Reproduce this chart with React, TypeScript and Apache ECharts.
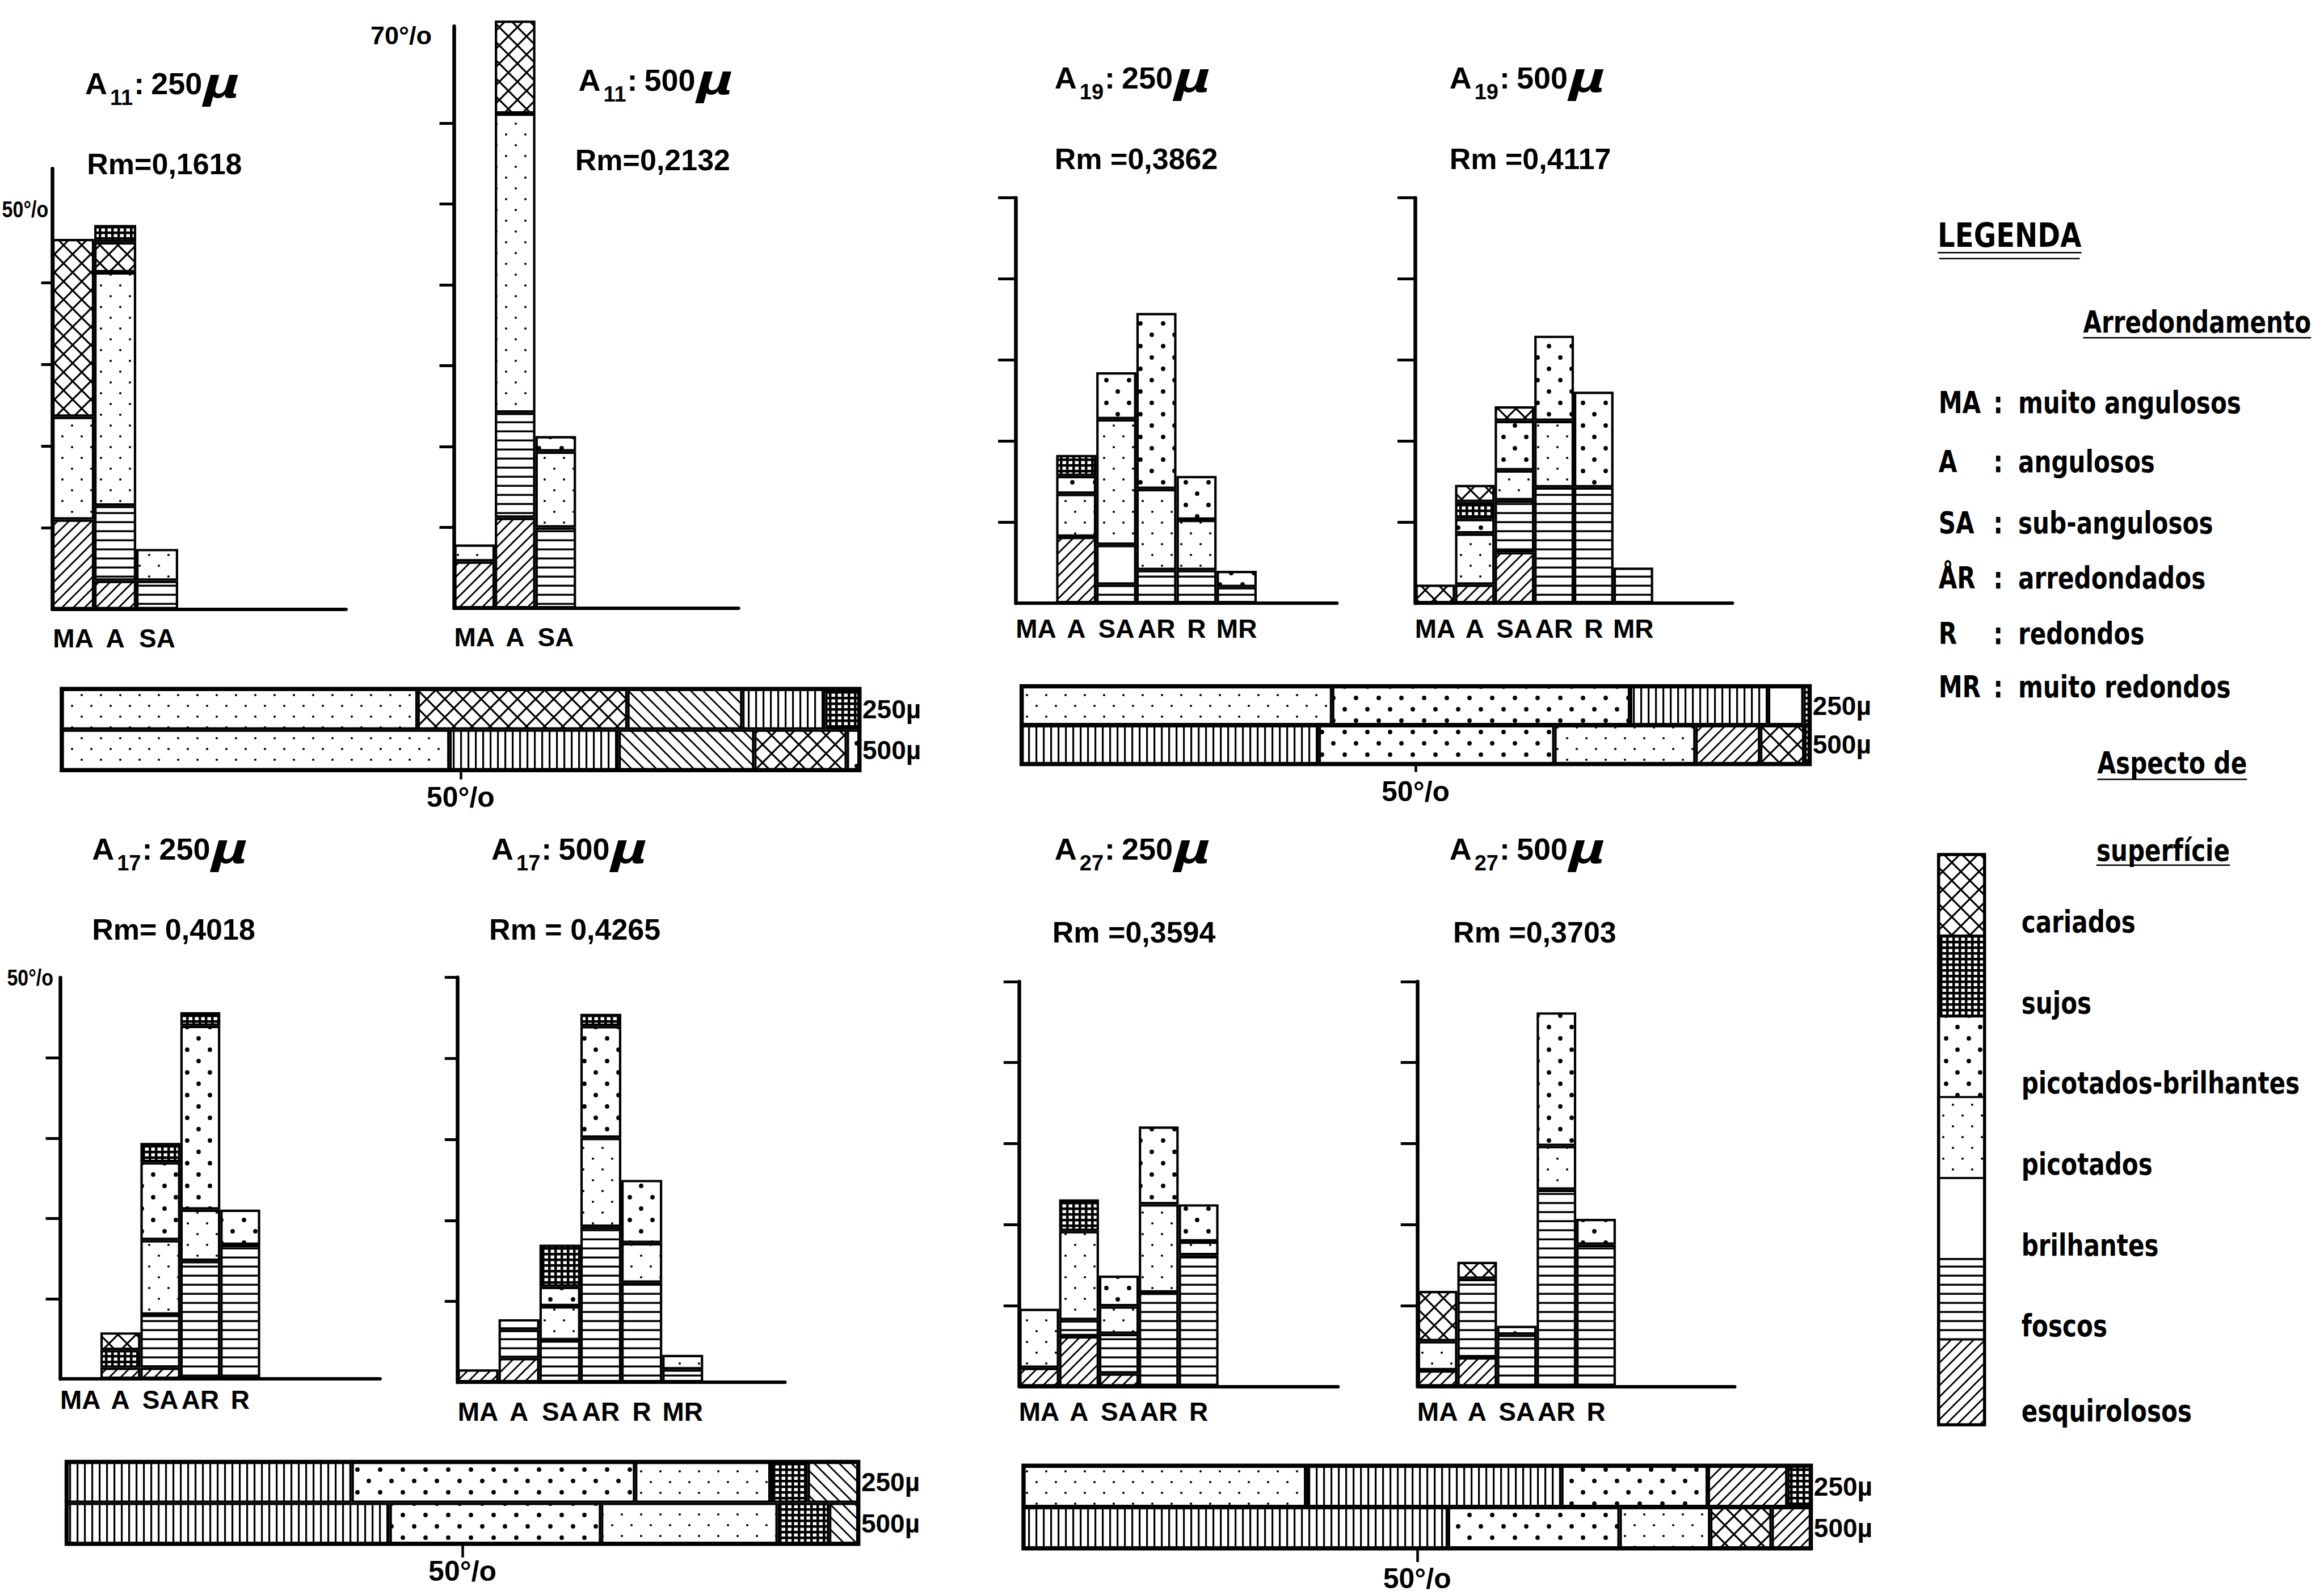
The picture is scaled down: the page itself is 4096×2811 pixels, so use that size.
import React, { useEffect, useRef } from 'react';
import * as echarts from 'echarts';

// ================= DATA =================
// Roundness classes (x categories of every histogram)
const ROUND_CLASSES = ['MA', 'A', 'SA', 'AR', 'R', 'MR'];
// Surface-aspect classes in stacking order, bottom -> top
// esq = esquirolosos, fos = foscos, bril = brilhantes, pic = picotados,
// picbril = picotados-brilhantes, cariSub = cariados (below sujos), sujos, cari = cariados
const SURFACE_STACK = ['esq', 'fos', 'bril', 'pic', 'picbril', 'cariSub', 'sujos', 'cari'];

// Histogram segment heights (%), rows = SURFACE_STACK, columns = ROUND_CLASSES
const A11_250 = [
  [11.0, 3.5, 0, 0, 0, 0],
  [0, 9.2, 3.5, 0, 0, 0],
  [0, 0, 0, 0, 0, 0],
  [12.6, 28.6, 3.9, 0, 0, 0],
  [0, 0, 0, 0, 0, 0],
  [0, 3.7, 0, 0, 0, 0],
  [0, 2.1, 0, 0, 0, 0],
  [21.8, 0, 0, 0, 0, 0],
];
const A11_500 = [
  [5.8, 11.2, 0, 0, 0, 0],
  [0, 13.0, 10.0, 0, 0, 0],
  [0, 0, 0, 0, 0, 0],
  [2.1, 37.0, 9.4, 0, 0, 0],
  [0, 0, 1.9, 0, 0, 0],
  [0, 0, 0, 0, 0, 0],
  [0, 0, 0, 0, 0, 0],
  [0, 11.5, 0, 0, 0, 0],
];
const A19_250 = [
  [0, 8.2, 0, 0, 0, 0],
  [0, 0, 2.3, 4.1, 4.1, 2.0],
  [0, 0, 4.9, 0, 0, 0],
  [0, 5.3, 15.5, 10.0, 6.2, 0],
  [0, 2.2, 5.8, 21.7, 5.4, 2.0],
  [0, 0, 0, 0, 0, 0],
  [0, 2.6, 0, 0, 0, 0],
  [0, 0, 0, 0, 0, 0],
];
const A19_500 = [
  [0, 2.3, 6.3, 0, 0, 0],
  [0, 0, 6.4, 14.3, 14.3, 4.4],
  [0, 0, 0, 0, 0, 0],
  [0, 6.3, 3.7, 8.2, 0, 0],
  [0, 1.8, 6.1, 10.5, 11.8, 0],
  [0, 0, 0, 0, 0, 0],
  [0, 2.1, 0, 0, 0, 0],
  [2.3, 2.1, 1.8, 0, 0, 0],
];
const A17_250 = [
  [0, 1.4, 1.4, 0, 0, 0],
  [0, 0, 6.6, 14.7, 16.7, 0],
  [0, 0, 0, 0, 0, 0],
  [0, 0, 9.3, 6.4, 0, 0],
  [0, 0, 9.7, 22.9, 4.4, 0],
  [0, 0, 0, 0, 0, 0],
  [0, 2.2, 2.4, 1.7, 0, 0],
  [0, 2.2, 0, 0, 0, 0],
];
const A17_500 = [
  [1.6, 3.0, 0, 0, 0, 0],
  [0, 3.5, 5.2, 19.2, 12.3, 1.6],
  [0, 0, 0, 0, 0, 0],
  [0, 1.3, 4.2, 11.0, 4.9, 1.8],
  [0, 0, 2.4, 13.8, 7.8, 0],
  [0, 0, 0, 0, 0, 0],
  [0, 0, 5.2, 1.5, 0, 0],
  [0, 0, 0, 0, 0, 0],
];
const A27_250 = [
  [2.3, 6.2, 1.6, 0, 0, 0],
  [0, 2.0, 4.9, 11.6, 16.2, 0],
  [0, 0, 0, 0, 0, 0],
  [7.3, 11.0, 3.4, 10.9, 1.7, 0],
  [0, 0, 3.8, 9.6, 4.6, 0],
  [0, 0, 0, 0, 0, 0],
  [0, 3.9, 0, 0, 0, 0],
  [0, 0, 0, 0, 0, 0],
];
const A27_500 = [
  [2.0, 3.6, 0, 0, 0, 0],
  [0, 9.7, 6.4, 24.3, 17.5, 0],
  [0, 0, 0, 0, 0, 0],
  [3.6, 0, 0, 5.4, 0, 0],
  [0, 0, 1.1, 16.5, 3.2, 0],
  [0, 0, 0, 0, 0, 0],
  [0, 0, 0, 0, 0, 0],
  [6.2, 2.1, 0, 0, 0, 0],
];

// number of roundness labels printed under each histogram
const SHOWN_LABELS = [3, 3, 6, 6, 5, 6, 5, 5];

// Titles (sample, sieve) and mean roundness
const SAMPLES = ['11', '11', '19', '19', '17', '17', '27', '27'];
const SIEVES = ['250', '500', '250', '500', '250', '500', '250', '500'];
const RM_TEXT = ['Rm=0,1618', 'Rm=0,2132', 'Rm =0,3862', 'Rm =0,4117', 'Rm= 0,4018', 'Rm = 0,4265', 'Rm =0,3594', 'Rm =0,3703'];

// Overall composition bars (% of sample), segments in drawn order
const H_A11_250 = [['pic', 44.6], ['cari', 26.3], ['esq', 14.4], ['fos', 10.4], ['sujos', 4.3]];
const H_A11_500 = [['pic', 48.6], ['fos', 21.2], ['esq', 17.0], ['cari', 11.6], ['picbril', 1.6]];
const H_A19_250 = [['pic', 39.4], ['picbril', 37.8], ['fos', 17.5], ['bril', 4.5], ['sujos', 0.8]];
const H_A19_500 = [['fos', 37.7], ['picbril', 29.9], ['pic', 17.9], ['esq', 8.2], ['cari', 5.6], ['sujos', 0.7]];
const H_A17_250 = [['fos', 36.0], ['picbril', 35.8], ['pic', 17.1], ['sujos', 4.7], ['esq', 6.4]];
const H_A17_500 = [['fos', 40.8], ['picbril', 26.7], ['pic', 22.3], ['sujos', 6.5], ['esq', 3.7]];
const H_A27_250 = [['pic', 35.9], ['fos', 32.4], ['picbril', 18.6], ['esq', 10.1], ['sujos', 3.0]];
const H_A27_500 = [['fos', 53.9], ['picbril', 21.8], ['pic', 11.5], ['cari', 7.8], ['esq', 5.0]];
const SIEVE_ROWS = ['250µ', '500µ'];
const PCT_TICK = [50];

// Legend texts
const ARRED_ITEMS = [
  ['MA', 'muito angulosos'], ['A', 'angulosos'], ['SA', 'sub-angulosos'],
  ['ÅR', 'arredondados'], ['R', 'redondos'], ['MR', 'muito redondos'],
];
const SURF_LEGEND = [
  ['cari', 'cariados'], ['sujos', 'sujos'], ['picbril', 'picotados-brilhantes'], ['pic', 'picotados'],
  ['bril', 'brilhantes'], ['fos', 'foscos'], ['esq', 'esquirolosos'],
];

// ================= LAYOUT / STYLE =================
const SANS = '"Liberation Sans", Arial, sans-serif';
const LEGF = '"DejaVu Sans", sans-serif';
const LEG_SX = 0.78;

const HIST_LAYOUT = [
  { left: 92.1, right: 609.9, top: 297.3, base: 1073.8, max: 54, n: 7, tick: 19.5, lm: 28, ticks: [10, 20, 30, 40] },
  { left: 800.5, right: 1301.7, top: 46.2, base: 1072.1, max: 72, n: 7, tick: 26, lm: 28, ticks: [10, 20, 30, 40, 50, 60] },
  { left: 1790.7, right: 2356.4, top: 348.7, base: 1063.2, max: 50, n: 8, tick: 31.6, lm: 22, ticks: [10, 20, 30, 40, 50] },
  { left: 2494.6, right: 3053.4, top: 348.7, base: 1063.2, max: 50, n: 8, tick: 31.6, lm: 22, ticks: [10, 20, 30, 40, 50] },
  { left: 106.6, right: 669.9, top: 1723.0, base: 2430.2, max: 50, n: 8, tick: 26, lm: 14, ticks: [10, 20, 30, 40] },
  { left: 806.5, right: 1383.6, top: 1722.6, base: 2436.2, max: 50, n: 8, tick: 22.7, lm: 29, ticks: [10, 20, 30, 40, 50] },
  { left: 1796.4, right: 2358.4, top: 1729.9, base: 2443.5, max: 50, n: 8, tick: 27.6, lm: 21, ticks: [10, 20, 30, 40, 50] },
  { left: 2498.7, right: 3057.5, top: 1729.9, base: 2443.5, max: 50, n: 8, tick: 30, lm: 21, ticks: [10, 20, 30, 40, 50] },
];
const TITLE_POS = [
  { x: 150, y: 166, rx: 153.3, ry: 307.4 },
  { x: 1019.4, y: 160, rx: 1013.8, ry: 300 },
  { x: 1858.8, y: 156, rx: 1858.8, ry: 298.4 },
  { x: 2554.7, y: 156, rx: 2554.7, ry: 298.4 },
  { x: 162.2, y: 1515, rx: 162.2, ry: 1656.5 },
  { x: 866.1, y: 1515, rx: 862.1, ry: 1656.5 },
  { x: 1858.8, y: 1515, rx: 1854.8, ry: 1661.4 },
  { x: 2554.7, y: 1515, rx: 2561.1, ry: 1661.4 },
];
const HBAR_LAYOUT = [
  { left: 108.7, right: 1515, top: 1214, bottom: 1357.6, tick: 16, lm: 22, back: true },
  { left: 1800.4, right: 3189.7, top: 1209.2, bottom: 1346.7, tick: 14, lm: 23, back: false },
  { left: 117.3, right: 1512.9, top: 2576.3, bottom: 2720.9, tick: 24, lm: 23, back: true },
  { left: 1803.7, right: 3191.8, top: 2583, bottom: 2729, tick: 24, lm: 28, back: false },
];

const svgURL = (w: number, h: number, body: string) =>
  'data:image/svg+xml;charset=utf-8,' +
  encodeURIComponent(
    `<svg xmlns="http://www.w3.org/2000/svg" width="${w}" height="${h}" viewBox="0 0 ${w} ${h}"><rect width="${w}" height="${h}" fill="#fff"/>${body}</svg>`
  );
const pat = (w: number, h: number, body: string): any => ({
  image: svgURL(w, h, body), repeat: 'repeat', imageWidth: w, imageHeight: h,
});

const PAT: Record<string, any> = {
  esq: pat(20, 20, '<path d="M-5,5L5,-5M-5,25L25,-5M15,25L25,15" stroke="#000" stroke-width="2.8"/>'),
  esqB: pat(22, 22, '<path d="M-5,17L5,27M-5,-5L27,27M17,-5L27,5" stroke="#000" stroke-width="2.8"/>'),
  fos: pat(10, 16, '<rect x="0" y="6.5" width="10" height="3.4" fill="#000"/>'),
  fosH: pat(13, 10, '<rect x="5" y="0" width="3.2" height="10" fill="#000"/>'),
  bril: '#ffffff',
  pic: pat(34, 38, '<circle cx="8" cy="9" r="2.1" fill="#000"/><circle cx="25" cy="28" r="2.1" fill="#000"/>'),
  picbril: pat(40, 40, '<circle cx="10" cy="10" r="3.9" fill="#000"/><circle cx="30" cy="30" r="3.9" fill="#000"/>'),
  sujos: pat(11, 10, '<rect width="11" height="10" fill="#000"/><rect x="2.5" y="2.5" width="6.5" height="5.5" fill="#fff"/>'),
  cari: pat(32, 32, '<path d="M-8,-8L40,40M40,-8L-8,40" stroke="#000" stroke-width="3.2"/>'),
};
PAT.cariSub = PAT.cari;

const hPat = (key: string, back: boolean) => {
  if (key === 'fos') return PAT.fosH;
  if (key === 'esq') return back ? PAT.esqB : PAT.esq;
  return PAT[key];
};

let mctx: CanvasRenderingContext2D | null = null;
function measure(text: string, fs: number, fam: string, weight = 'bold', style = 'normal') {
  if (!mctx) mctx = document.createElement('canvas').getContext('2d');
  if (!mctx) return text.length * fs * 0.56;
  mctx.font = `${style} ${weight} ${fs}px ${fam}`;
  return mctx.measureText(text).width;
}

function txt(text: string, x: number, yb: number, fs: number, opt: any = {}): any {
  const fam = opt.fam || SANS;
  const align = opt.align || 'left';
  const sx = opt.sx || 1;
  return {
    type: 'text', x, y: yb - 0.35 * fs, silent: true, scaleX: sx, scaleY: 1,
    style: {
      text, fontSize: fs, fontFamily: fam, fontWeight: opt.weight || 'bold',
      fontStyle: opt.italic ? 'italic' : 'normal', fill: '#000',
      align, verticalAlign: 'middle', textAlign: align, textVerticalAlign: 'middle',
    },
  };
}
function line(x1: number, y1: number, x2: number, y2: number, w = 3): any {
  return { type: 'line', silent: true, shape: { x1, y1, x2, y2 }, style: { stroke: '#000', lineWidth: w } };
}

function buildOption() {
  const HISTS = [A11_250, A11_500, A19_250, A19_500, A17_250, A17_500, A27_250, A27_500];
  const HROWS = [
    [H_A11_250, H_A11_500], [H_A19_250, H_A19_500], [H_A17_250, H_A17_500], [H_A27_250, H_A27_500],
  ];
  const grid: any[] = [];
  const xAxis: any[] = [];
  const yAxis: any[] = [];
  const series: any[] = [];
  const graphics: any[] = [];

  HISTS.forEach((data, p) => {
    const L = HIST_LAYOUT[p];
    grid.push({ left: L.left, top: L.top, width: L.right - L.left, height: L.base - L.top, containLabel: false, outerBoundsMode: 'none' });
    const labels: string[] = [];
    for (let i = 0; i < L.n; i++) labels.push(i < SHOWN_LABELS[p] ? ROUND_CLASSES[i] : '');
    xAxis.push({
      type: 'category', gridIndex: p, data: labels, boundaryGap: true,
      axisLine: { show: true, onZero: false, lineStyle: { color: '#000', width: 6 } },
      axisTick: { show: false }, splitLine: { show: false },
      axisLabel: { show: true, interval: 0, color: '#000', fontFamily: SANS, fontWeight: 'bold', fontSize: 46, margin: L.lm },
    });
    yAxis.push({
      type: 'value', gridIndex: p, min: 0, max: L.max,
      axisLine: { show: true, lineStyle: { color: '#000', width: 6.5 } },
      axisTick: { show: true, customValues: L.ticks, length: L.tick, lineStyle: { color: '#000', width: 5 } },
      axisLabel: { show: false }, splitLine: { show: false },
    });
    SURFACE_STACK.forEach((key, s) => {
      const row = data[s];
      if (row.every((v) => !v)) return;
      const vals: any[] = [];
      for (let i = 0; i < L.n; i++) vals.push(i < row.length && row[i] ? row[i] : '-');
      series.push({
        type: 'bar', name: key, xAxisIndex: p, yAxisIndex: p, stack: 'h' + p,
        barCategoryGap: '0%', barGap: '0%', data: vals, silent: true, clip: false,
        emphasis: { disabled: true },
        itemStyle: { color: PAT[key], borderColor: '#000', borderWidth: 4.2 },
      });
    });
    // titles: A, subscript sample, colon, sieve, µ
    const T = TITLE_POS[p];
    let cx = T.x;
    graphics.push(txt('A', cx, T.y, 54));
    cx += measure('A', 54, SANS) + 5;
    graphics.push(txt(SAMPLES[p], cx, T.y + 19, 38));
    cx += measure(SAMPLES[p], 38, SANS) + 2;
    graphics.push(txt(':', cx, T.y, 54));
    cx += measure(':', 54, SANS) + 12;
    graphics.push(txt(SIEVES[p], cx, T.y, 54));
    cx += measure(SIEVES[p], 54, SANS) + 2;
    graphics.push(txt('µ', cx, T.y + 6, 76, { italic: true, sx: 1.45 }));
    graphics.push(txt(RM_TEXT[p], T.rx, T.ry, 52));
  });

  HROWS.forEach((rows, k) => {
    const gi = 8 + k;
    const L = HBAR_LAYOUT[k];
    grid.push({
      left: L.left, top: L.top, width: L.right - L.left, height: L.bottom - L.top,
      show: true, borderColor: '#000', borderWidth: 7, backgroundColor: '#fff',
      containLabel: false, outerBoundsMode: 'none',
    });
    xAxis.push({
      type: 'value', gridIndex: gi, min: 0, max: 100,
      axisLine: { show: false }, splitLine: { show: false },
      axisTick: { show: true, customValues: PCT_TICK, length: L.tick, lineStyle: { color: '#000', width: 4.5 } },
      axisLabel: {
        show: true, customValues: PCT_TICK, formatter: (v: number) => `${v}°/o`,
        margin: L.lm, fontSize: 50, fontWeight: 'bold', fontFamily: SANS, color: '#000',
      },
    });
    yAxis.push({
      type: 'category', gridIndex: gi, data: SIEVE_ROWS, inverse: true, position: 'right',
      axisLine: { show: false }, axisTick: { show: false }, splitLine: { show: false },
      axisLabel: { show: true, color: '#000', fontSize: 46, fontWeight: 'bold', fontFamily: SANS, margin: 5 },
    });
    const nSeg = Math.max(rows[0].length, rows[1].length);
    for (let r = 0; r < nSeg; r++) {
      series.push({
        type: 'bar', name: 'seg' + r, xAxisIndex: gi, yAxisIndex: gi, stack: 'hb' + k,
        barCategoryGap: '0%', barGap: '0%', silent: true, emphasis: { disabled: true },
        itemStyle: { color: '#fff', borderColor: '#000', borderWidth: 4 },
        data: rows.map((row) => {
          const seg = row[r];
          if (!seg) return '-';
          return { value: seg[1], itemStyle: { color: hPat(seg[0] as string, L.back), borderColor: '#000', borderWidth: 4 } };
        }),
      });
    }
  });

  // percent labels on the y axes
  graphics.push(txt('70°/o', 652.9, 78.7, 45));
  graphics.push(txt('50°/o', 85.2, 382.8, 40, { align: 'right', sx: 0.85 }));
  graphics.push(txt('50°/o', 94, 1736.8, 40, { align: 'right', sx: 0.85 }));

  // legend
  const lg = { fam: LEGF, sx: LEG_SX };
  const ul = (text: string, x: number, yb: number, fs: number, sx: number, uy: number) => {
    graphics.push(txt(text, x, yb, fs, { fam: LEGF, sx }));
    const w = measure(text, fs, LEGF) * sx;
    graphics.push(line(x, uy, x + w, uy, 2.5));
    return w;
  };
  const wl = ul('LEGENDA', 3415.1, 435.5, 58, 0.83, 445.2);
  graphics.push(line(3418, 455.8, 3415.1 + wl - 3, 455.8, 2.5));
  ul('Arredondamento', 3671.4, 586.4, 54, LEG_SX, 595.3);
  const arrBase = [727.9, 832.1, 939.9, 1037.3, 1134.6, 1228.7];
  ARRED_ITEMS.forEach(([abbr, desc], i) => {
    graphics.push(txt(abbr, 3416.7, arrBase[i], 54, lg));
    graphics.push(txt(':', 3513.3, arrBase[i], 54, lg));
    graphics.push(txt(desc, 3557, arrBase[i], 54, lg));
  });
  ul('Aspecto de', 3696.5, 1363.3, 54, LEG_SX, 1373.4);
  ul('superfície', 3694.9, 1517.4, 54, LEG_SX, 1524.7);
  const sw = [1506, 1648.8, 1791.5, 1933.4, 2076.2, 2218.9, 2360.8, 2510.9];
  SURF_LEGEND.forEach(([key, label], i) => {
    graphics.push({
      type: 'rect', silent: true,
      shape: { x: 3416.7, y: sw[i], width: 81, height: sw[i + 1] - sw[i] },
      style: { fill: PAT[key], stroke: '#000', lineWidth: 3.5 },
    });
    graphics.push(txt(label, 3562.7, sw[i + 1] - 6, 54, lg));
  });
  graphics.push({
    type: 'rect', silent: true,
    shape: { x: 3416.7, y: sw[0], width: 81, height: sw[7] - sw[0] },
    style: { fill: 'none', stroke: '#000', lineWidth: 5.5 },
  });

  return {
    animation: false,
    backgroundColor: '#ffffff',
    textStyle: { fontFamily: SANS, color: '#000' },
    grid, xAxis, yAxis, series,
    graphic: { elements: graphics },
  };
}

export default function App() {
  const ref = useRef<HTMLDivElement>(null);
  useEffect(() => {
    if (!ref.current) return;
    const chart = echarts.init(ref.current, null, { renderer: 'svg' });
    chart.setOption(buildOption() as any);
    return () => chart.dispose();
  }, []);
  return (
    <div
      ref={ref}
      style={{ position: 'fixed', left: 0, top: 0, width: 4096, height: 2811, background: '#fff' }}
    />
  );
}
